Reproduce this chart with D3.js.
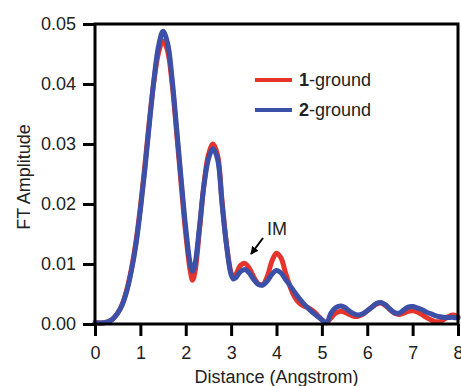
<!DOCTYPE html>
<html>
<head>
<meta charset="utf-8">
<script src="https://cdn.jsdelivr.net/npm/d3@7"></script>
<style>
  html, body { margin: 0; padding: 0; background: #fff; }
  text { font-family: Arial, "Liberation Sans", Helvetica, sans-serif; fill: #222; }
</style>
</head>
<body>
<div id="chart"></div>
<script>
// distance axis (Angstrom), shared by both curves
const distance = [0, 0.2, 0.3, 0.4, 0.5, 0.6, 0.7, 0.8, 0.9, 1.0, 1.1, 1.2, 1.3, 1.4, 1.5, 1.6, 1.7, 1.8, 1.9, 2.0,
    2.1, 2.15, 2.2, 2.3, 2.4, 2.5, 2.6, 2.7, 2.8, 2.9, 3.0, 3.05, 3.1, 3.2, 3.3, 3.4, 3.5, 3.6, 3.7, 3.8, 3.9,
    4.0, 4.1, 4.2, 4.3, 4.4, 4.5, 4.6, 4.7, 4.8, 4.9, 5.0, 5.1, 5.2, 5.3, 5.4, 5.5, 5.6, 5.7, 5.8, 5.9,
    6.0, 6.1, 6.2, 6.3, 6.4, 6.5, 6.6, 6.7, 6.8, 6.9, 7.0, 7.1, 7.2, 7.3, 7.4, 7.5, 7.6, 7.7, 7.8, 7.9, 8.0];

const ground1 = [0.0002, 0.0002, 0.0004, 0.0009, 0.0018, 0.0033, 0.0057, 0.0091, 0.0136, 0.0195, 0.0265, 0.0340, 0.0405, 0.0452, 0.0472, 0.0455, 0.0400, 0.0318, 0.0232, 0.0150,
    0.0088, 0.0073, 0.0085, 0.0155, 0.0232, 0.0282, 0.0300, 0.0282, 0.0205, 0.0132, 0.0085, 0.0078, 0.0082, 0.0097, 0.0101, 0.0093, 0.0078, 0.0067, 0.0066, 0.0080, 0.0105,
    0.0118, 0.0110, 0.0085, 0.0062, 0.0045, 0.0035, 0.0030, 0.0027, 0.0022, 0.0015, 0.0007, 0.0002, 0.0010, 0.0018, 0.0021, 0.0020, 0.0016, 0.0013, 0.0013, 0.0016,
    0.0022, 0.0028, 0.0033, 0.0035, 0.0031, 0.0024, 0.0018, 0.0016, 0.0018, 0.0021, 0.0022, 0.0020, 0.0016, 0.0011, 0.0007, 0.0004, 0.0004, 0.0008, 0.0013, 0.0015, 0.0012];

const ground2 = [0.0002, 0.0002, 0.0004, 0.0009, 0.0018, 0.0032, 0.0055, 0.0088, 0.0131, 0.0190, 0.0258, 0.0335, 0.0408, 0.0463, 0.0488, 0.0468, 0.0408, 0.0325, 0.0240, 0.0160,
    0.0100, 0.0088, 0.0098, 0.0160, 0.0230, 0.0275, 0.0292, 0.0275, 0.0200, 0.0130, 0.0082, 0.0075, 0.0077, 0.0087, 0.0091, 0.0085, 0.0074, 0.0066, 0.0065, 0.0072, 0.0083,
    0.0089, 0.0085, 0.0074, 0.0064, 0.0053, 0.0043, 0.0034, 0.0026, 0.0019, 0.0013, 0.0007, 0.0002, 0.0018, 0.0027, 0.0030, 0.0028, 0.0022, 0.0017, 0.0015, 0.0017,
    0.0022, 0.0028, 0.0034, 0.0036, 0.0032, 0.0025, 0.0019, 0.0018, 0.0023, 0.0028, 0.0029, 0.0027, 0.0024, 0.0020, 0.0017, 0.0014, 0.0012, 0.0011, 0.0011, 0.0011, 0.0010];

const xTicks = [0, 1, 2, 3, 4, 5, 6, 7, 8];
const yTicks = [0, 0.01, 0.02, 0.03, 0.04, 0.05];

const seriesNames = ["1", "2"];
const seriesColors = ["#e4342b", "#3c50a8"];

const width = 461;
const height = 386;
const margin = { top: 24, right: 3, bottom: 62, left: 95 };
const fontSize = 18;

const svg = d3.select("#chart")
    .append("svg")
    .attr("width", width)
    .attr("height", height);

const x = d3.scaleLinear().domain([0, 8]).range([margin.left, width - margin.right]);
const y = d3.scaleLinear().domain([0, 0.05]).range([height - margin.bottom, margin.top]);

const line = d3.line()
    .x(d => x(d[0]))
    .y(d => y(d[1]))
    .curve(d3.curveCatmullRom.alpha(0.5));

[ground1, ground2].forEach((values, i) => {
    svg.append("path")
        .datum(distance.map((d, j) => [d, values[j]]))
        .attr("fill", "none")
        .attr("stroke", seriesColors[i])
        .attr("stroke-width", 5)
        .attr("stroke-linejoin", "round")
        .attr("stroke-linecap", "round")
        .attr("d", line);
});

// frame
svg.append("rect")
    .attr("x", x(0))
    .attr("y", y(0.05))
    .attr("width", x(8) - x(0))
    .attr("height", y(0) - y(0.05))
    .attr("fill", "none")
    .attr("stroke", "#000")
    .attr("stroke-width", 3);

const xAxis = svg.append("g")
    .attr("transform", "translate(0," + y(0) + ")")
    .call(d3.axisBottom(x).tickValues(xTicks).tickSize(12).tickPadding(10).tickFormat(d3.format("d")));

const yAxis = svg.append("g")
    .attr("transform", "translate(" + x(0) + ",0)")
    .call(d3.axisLeft(y).tickValues(yTicks).tickSize(12).tickPadding(7).tickFormat(d3.format(".2f")));

[xAxis, yAxis].forEach(axis => {
    axis.select(".domain").remove();
    axis.selectAll(".tick line").attr("stroke", "#000").attr("stroke-width", 3);
    axis.selectAll(".tick text")
        .style("font-size", fontSize + "px")
        .style("font-family", "Arial, 'Liberation Sans', Helvetica, sans-serif")
        .attr("fill", "#222");
});

svg.append("text")
    .attr("x", (x(0) + x(8)) / 2)
    .attr("y", 383)
    .attr("text-anchor", "middle")
    .style("font-size", fontSize + "px")
    .text("Distance (Angstrom)");

svg.append("text")
    .attr("transform", "translate(30," + ((y(0) + y(0.05)) / 2 + 3) + ") rotate(-90)")
    .attr("text-anchor", "middle")
    .style("font-size", fontSize + "px")
    .text("FT Amplitude");

// legend
const legend = svg.append("g");
seriesNames.forEach((name, i) => {
    const ly = 80 + i * 30;
    legend.append("line")
        .attr("x1", 255)
        .attr("x2", 292)
        .attr("y1", ly)
        .attr("y2", ly)
        .attr("stroke", seriesColors[i])
        .attr("stroke-width", 4);
    const t = legend.append("text")
        .attr("x", 299)
        .attr("y", ly + 6)
        .style("font-size", fontSize + "px");
    t.append("tspan").style("font-weight", "bold").text(name);
    t.append("tspan").text("-ground");
});

// IM annotation
const defs = svg.append("defs");
defs.append("marker")
    .attr("id", "arrow")
    .attr("viewBox", "0 0 10 10")
    .attr("refX", 9)
    .attr("refY", 5)
    .attr("markerWidth", 4)
    .attr("markerHeight", 4)
    .attr("orient", "auto")
    .append("path")
    .attr("d", "M0,0 L10,5 L0,10 Z")
    .attr("fill", "#000");

svg.append("line")
    .attr("x1", 263)
    .attr("y1", 238)
    .attr("x2", 251)
    .attr("y2", 254)
    .attr("stroke", "#000")
    .attr("stroke-width", 2)
    .attr("marker-end", "url(#arrow)");

svg.append("text")
    .attr("x", 267)
    .attr("y", 235)
    .style("font-size", fontSize + "px")
    .text("IM");
</script>
</body>
</html>
